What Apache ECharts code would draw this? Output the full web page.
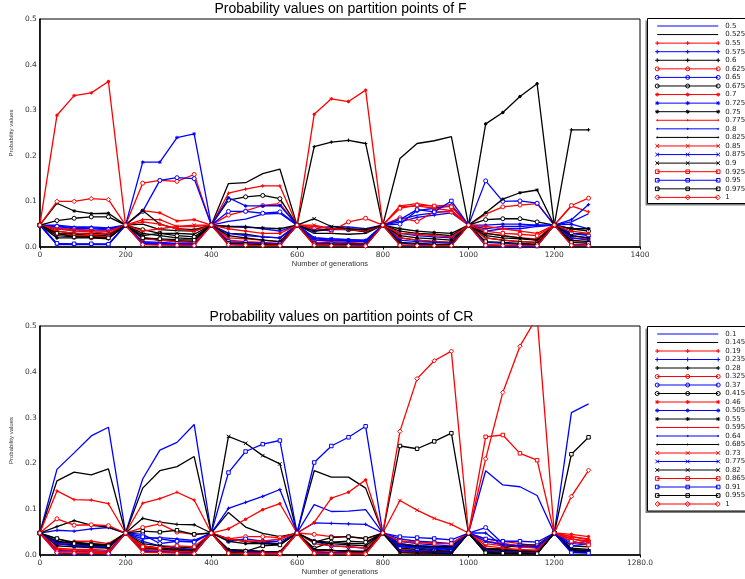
<!DOCTYPE html>
<html><head><meta charset="utf-8">
<script src="https://cdn.jsdelivr.net/npm/echarts@6/dist/echarts.min.js"></script>
<style>html,body{margin:0;padding:0;background:#fff}#c{width:745px;height:579px}</style>
</head><body><div id="c"></div>
<script>
// ---------- data ----------
const generations = [0,40,80,120,160,200,240,280,320,360,400,440,480,520,560,600,640,680,720,760,800,840,880,920,960,1000,1040,1080,1120,1160,1200,1240,1280];
const fNames = ['0.5','0.525','0.55','0.575','0.6','0.625','0.65','0.675','0.7','0.725','0.75','0.775','0.8','0.825','0.85','0.875','0.9','0.925','0.95','0.975','1'];
const crNames = ['0.1','0.145','0.19','0.235','0.28','0.325','0.37','0.415','0.46','0.505','0.55','0.595','0.64','0.685','0.73','0.775','0.82','0.865','0.91','0.955','1'];
const xTickLabelsF = ['0','200','400','600','800','1000','1200','1400'];
const xTickLabelsCR = ['0','200','400','600','800','1000','1200','1280.0'];
const yTickLabels = ['0.0','0.1','0.2','0.3','0.4','0.5'];

const F01 = [0.048, 0.045,0.043,0.042,0.040, 0.048, 0.020,0.015,0.012,0.010, 0.048, 0.056,0.061,0.072,0.074, 0.048, 0.040,0.045,0.044,0.040, 0.048, 0.060,0.070,0.075,0.080, 0.048, 0.035,0.040,0.040,0.045, 0.048, 0.055,0.073];
const F02 = [0.048, 0.035,0.030,0.030,0.028, 0.048, 0.050,0.038,0.036,0.035, 0.048, 0.139,0.141,0.161,0.171, 0.048, 0.030,0.030,0.028,0.030, 0.048, 0.194,0.227,0.233,0.242, 0.048, 0.020,0.015,0.012,0.010, 0.048, 0.030,0.028];
const F03 = [0.048, 0.040,0.035,0.033,0.030, 0.048, 0.060,0.060,0.045,0.045, 0.048, 0.118,0.127,0.134,0.134, 0.048, 0.045,0.040,0.040,0.035, 0.048, 0.090,0.095,0.089,0.093, 0.048, 0.030,0.025,0.020,0.018, 0.048, 0.090,0.077];
const F04 = [0.048, 0.048,0.044,0.044,0.042, 0.048, 0.012,0.010,0.008,0.008, 0.048, 0.045,0.045,0.040,0.035, 0.048, 0.020,0.018,0.016,0.015, 0.048, 0.055,0.065,0.070,0.075, 0.048, 0.040,0.045,0.045,0.048, 0.048, 0.060,0.093];
const F05 = [0.048, 0.025,0.022,0.022,0.020, 0.048, 0.030,0.025,0.020,0.018, 0.048, 0.030,0.028,0.022,0.020, 0.048, 0.220,0.230,0.234,0.227, 0.048, 0.035,0.030,0.028,0.025, 0.048, 0.030,0.025,0.020,0.015, 0.048, 0.257,0.257];
const F06 = [0.048, 0.030,0.025,0.020,0.020, 0.048, 0.140,0.146,0.144,0.159, 0.048, 0.070,0.079,0.091,0.095, 0.048, 0.040,0.035,0.055,0.063, 0.048, 0.064,0.056,0.077,0.077, 0.048, 0.072,0.088,0.092,0.095, 0.048, 0.091,0.107];
const F07 = [0.048, 0.045,0.040,0.040,0.038, 0.048, 0.078,0.146,0.152,0.150, 0.048, 0.078,0.078,0.074,0.077, 0.048, 0.035,0.038,0.038,0.035, 0.048, 0.050,0.080,0.085,0.090, 0.048, 0.145,0.100,0.101,0.096, 0.048, 0.030,0.025];
const F08 = [0.048, 0.058,0.063,0.066,0.066, 0.048, 0.038,0.030,0.025,0.022, 0.048, 0.103,0.110,0.113,0.106, 0.048, 0.010,0.008,0.006,0.006, 0.048, 0.020,0.015,0.012,0.010, 0.048, 0.060,0.062,0.062,0.055, 0.048, 0.040,0.035];
const F09 = [0.048, 0.289,0.332,0.338,0.363, 0.048, 0.080,0.075,0.057,0.060, 0.048, 0.020,0.018,0.015,0.012, 0.048, 0.291,0.325,0.319,0.344, 0.048, 0.020,0.015,0.012,0.010, 0.048, 0.005,0.004,0.004,0.003, 0.048, 0.012,0.010];
const F10 = [0.048, 0.040,0.038,0.036,0.035, 0.048, 0.186,0.186,0.240,0.248, 0.048, 0.030,0.025,0.022,0.020, 0.048, 0.018,0.015,0.014,0.012, 0.048, 0.015,0.012,0.010,0.008, 0.048, 0.048,0.050,0.050,0.048, 0.048, 0.050,0.040];
const F11 = [0.048, 0.096,0.079,0.073,0.074, 0.048, 0.080,0.050,0.040,0.038, 0.048, 0.045,0.043,0.042,0.040, 0.048, 0.035,0.040,0.038,0.033, 0.048, 0.040,0.035,0.032,0.030, 0.048, 0.075,0.105,0.119,0.125, 0.048, 0.040,0.040];
const F12 = [0.048, 0.035,0.030,0.028,0.025, 0.048, 0.055,0.050,0.040,0.035, 0.048, 0.040,0.035,0.030,0.030, 0.048, 0.015,0.012,0.010,0.008, 0.048, 0.088,0.090,0.085,0.080, 0.048, 0.045,0.040,0.035,0.030, 0.048, 0.035,0.030];
const F13 = [0.048, 0.007,0.006,0.006,0.006, 0.048, 0.010,0.008,0.007,0.006, 0.048, 0.108,0.090,0.090,0.091, 0.048, 0.015,0.014,0.013,0.012, 0.048, 0.030,0.025,0.022,0.020, 0.048, 0.010,0.008,0.006,0.005, 0.048, 0.025,0.020];
const F14 = [0.048, 0.020,0.020,0.020,0.018, 0.048, 0.020,0.015,0.014,0.012, 0.048, 0.025,0.020,0.015,0.012, 0.048, 0.010,0.009,0.008,0.006, 0.048, 0.025,0.020,0.018,0.015, 0.048, 0.270,0.295,0.330,0.358, 0.048, 0.015,0.012];
const F15 = [0.048, 0.040,0.038,0.036,0.035, 0.048, 0.035,0.040,0.045,0.048, 0.048, 0.015,0.012,0.010,0.008, 0.048, 0.048,0.040,0.038,0.035, 0.048, 0.030,0.028,0.025,0.022, 0.048, 0.020,0.015,0.012,0.010, 0.048, 0.020,0.018];
const F16 = [0.048, 0.005,0.005,0.005,0.005, 0.048, 0.008,0.007,0.006,0.005, 0.048, 0.005,0.004,0.004,0.003, 0.048, 0.020,0.018,0.016,0.014, 0.048, 0.008,0.006,0.005,0.004, 0.048, 0.004,0.003,0.003,0.003, 0.048, 0.020,0.015];
const F17 = [0.048, 0.030,0.028,0.025,0.025, 0.048, 0.025,0.030,0.030,0.028, 0.048, 0.010,0.008,0.008,0.006, 0.048, 0.062,0.045,0.040,0.038, 0.048, 0.010,0.008,0.006,0.005, 0.048, 0.025,0.020,0.018,0.015, 0.048, 0.025,0.020];
const F18 = [0.048, 0.030,0.025,0.025,0.022, 0.048, 0.018,0.015,0.012,0.010, 0.048, 0.010,0.008,0.006,0.005, 0.048, 0.010,0.008,0.006,0.005, 0.048, 0.085,0.092,0.090,0.088, 0.048, 0.035,0.030,0.028,0.025, 0.048, 0.005,0.004];
const F19 = [0.048, 0.008,0.007,0.007,0.006, 0.048, 0.006,0.005,0.004,0.004, 0.048, 0.012,0.010,0.008,0.007, 0.048, 0.008,0.007,0.006,0.005, 0.048, 0.060,0.082,0.077,0.101, 0.048, 0.003,0.003,0.002,0.002, 0.048, 0.005,0.004];
const F20 = [0.048, 0.030,0.022,0.022,0.020, 0.048, 0.020,0.018,0.016,0.015, 0.048, 0.008,0.006,0.005,0.004, 0.048, 0.005,0.004,0.004,0.003, 0.048, 0.004,0.003,0.003,0.003, 0.048, 0.012,0.010,0.008,0.006, 0.048, 0.010,0.008];
const F21 = [0.048, 0.100,0.100,0.106,0.104, 0.048, 0.005,0.004,0.004,0.003, 0.048, 0.005,0.004,0.003,0.003, 0.048, 0.004,0.003,0.003,0.002, 0.048, 0.004,0.003,0.003,0.003, 0.048, 0.004,0.003,0.003,0.003, 0.048, 0.004,0.003];

const C01 = [0.048, 0.187,0.223,0.260,0.279, 0.048, 0.166,0.229,0.246,0.285, 0.048, 0.035,0.030,0.028,0.025, 0.048, 0.110,0.095,0.096,0.099, 0.048, 0.030,0.025,0.022,0.020, 0.048, 0.184,0.153,0.149,0.130, 0.048, 0.311,0.330];
const C02 = [0.048, 0.162,0.181,0.175,0.188, 0.048, 0.146,0.184,0.193,0.215, 0.048, 0.093,0.061,0.047,0.040, 0.048, 0.184,0.170,0.170,0.146, 0.048, 0.020,0.018,0.015,0.012, 0.048, 0.015,0.012,0.010,0.010, 0.048, 0.020,0.018];
const C03 = [0.048, 0.140,0.121,0.120,0.112, 0.048, 0.113,0.123,0.137,0.120, 0.048, 0.012,0.010,0.008,0.007, 0.048, 0.012,0.010,0.008,0.006, 0.048, 0.012,0.010,0.008,0.006, 0.048, 0.035,0.030,0.025,0.020, 0.048, 0.040,0.035];
const C04 = [0.048, 0.054,0.052,0.057,0.060, 0.048, 0.035,0.038,0.035,0.032, 0.048, 0.102,0.115,0.128,0.143, 0.048, 0.070,0.069,0.068,0.067, 0.048, 0.018,0.015,0.012,0.010, 0.048, 0.048,0.020,0.018,0.016, 0.048, 0.025,0.030];
const C05 = [0.048, 0.062,0.075,0.065,0.061, 0.048, 0.080,0.072,0.067,0.066, 0.048, 0.035,0.030,0.025,0.025, 0.048, 0.030,0.028,0.025,0.025, 0.048, 0.025,0.020,0.018,0.017, 0.048, 0.012,0.010,0.008,0.008, 0.048, 0.015,0.012];
const C06 = [0.048, 0.079,0.065,0.066,0.064, 0.048, 0.060,0.068,0.050,0.045, 0.048, 0.035,0.040,0.040,0.038, 0.048, 0.045,0.040,0.040,0.035, 0.048, 0.030,0.028,0.026,0.025, 0.048, 0.025,0.020,0.018,0.015, 0.048, 0.035,0.030];
const C07 = [0.048, 0.030,0.020,0.018,0.016, 0.048, 0.045,0.025,0.030,0.030, 0.048, 0.030,0.035,0.030,0.030, 0.048, 0.030,0.020,0.018,0.015, 0.048, 0.035,0.030,0.028,0.025, 0.048, 0.060,0.025,0.020,0.018, 0.048, 0.020,0.025];
const C08 = [0.048, 0.025,0.022,0.020,0.018, 0.048, 0.020,0.015,0.012,0.010, 0.048, 0.010,0.008,0.006,0.005, 0.048, 0.015,0.028,0.030,0.028, 0.048, 0.015,0.012,0.010,0.008, 0.048, 0.010,0.015,0.022,0.022, 0.048, 0.010,0.008];
const C09 = [0.048, 0.020,0.030,0.030,0.025, 0.048, 0.020,0.015,0.012,0.010, 0.048, 0.035,0.030,0.030,0.035, 0.048, 0.025,0.020,0.018,0.015, 0.048, 0.005,0.004,0.004,0.003, 0.048, 0.030,0.025,0.020,0.018, 0.048, 0.045,0.040];
const C10 = [0.048, 0.028,0.025,0.022,0.020, 0.048, 0.030,0.020,0.015,0.012, 0.048, 0.010,0.008,0.006,0.005, 0.048, 0.012,0.010,0.008,0.007, 0.048, 0.025,0.020,0.018,0.015, 0.048, 0.030,0.022,0.020,0.018, 0.048, 0.030,0.022];
const C11 = [0.048, 0.020,0.018,0.016,0.015, 0.048, 0.018,0.015,0.012,0.010, 0.048, 0.030,0.025,0.025,0.022, 0.048, 0.030,0.025,0.022,0.020, 0.048, 0.022,0.020,0.018,0.018, 0.048, 0.012,0.010,0.010,0.008, 0.048, 0.012,0.010];
const C12 = [0.048, 0.012,0.010,0.010,0.008, 0.048, 0.015,0.012,0.010,0.008, 0.048, 0.057,0.078,0.099,0.112, 0.048, 0.071,0.124,0.137,0.164, 0.048, 0.008,0.006,0.005,0.004, 0.048, 0.020,0.015,0.012,0.010, 0.048, 0.040,0.033];
const C13 = [0.048, 0.025,0.020,0.020,0.018, 0.048, 0.010,0.008,0.006,0.005, 0.048, 0.008,0.006,0.005,0.004, 0.048, 0.010,0.010,0.008,0.008, 0.048, 0.020,0.016,0.015,0.014, 0.048, 0.010,0.008,0.006,0.005, 0.048, 0.008,0.006];
const C14 = [0.048, 0.035,0.028,0.025,0.022, 0.048, 0.015,0.012,0.010,0.008, 0.048, 0.012,0.010,0.008,0.007, 0.048, 0.012,0.010,0.009,0.008, 0.048, 0.010,0.008,0.007,0.006, 0.048, 0.008,0.006,0.005,0.004, 0.048, 0.006,0.005];
const C15 = [0.048, 0.015,0.012,0.012,0.010, 0.048, 0.012,0.010,0.008,0.006, 0.048, 0.006,0.005,0.004,0.004, 0.048, 0.008,0.006,0.005,0.005, 0.048, 0.119,0.098,0.080,0.067, 0.048, 0.006,0.005,0.004,0.004, 0.048, 0.035,0.028];
const C16 = [0.048, 0.010,0.008,0.007,0.006, 0.048, 0.008,0.006,0.005,0.004, 0.048, 0.005,0.004,0.004,0.003, 0.048, 0.006,0.005,0.004,0.004, 0.048, 0.010,0.008,0.006,0.005, 0.048, 0.005,0.004,0.004,0.003, 0.048, 0.010,0.008];
const C17 = [0.048, 0.030,0.026,0.024,0.022, 0.048, 0.025,0.020,0.018,0.015, 0.048, 0.259,0.244,0.217,0.199, 0.048, 0.012,0.010,0.008,0.007, 0.048, 0.005,0.004,0.004,0.003, 0.048, 0.004,0.003,0.003,0.003, 0.048, 0.010,0.008];
const C18 = [0.048, 0.008,0.007,0.006,0.005, 0.048, 0.018,0.015,0.020,0.018, 0.048, 0.004,0.003,0.003,0.002, 0.048, 0.004,0.003,0.003,0.003, 0.048, 0.030,0.028,0.025,0.025, 0.048, 0.258,0.262,0.222,0.207, 0.048, 0.030,0.022];
const C19 = [0.048, 0.004,0.003,0.003,0.003, 0.048, 0.040,0.035,0.030,0.028, 0.048, 0.180,0.226,0.242,0.250, 0.048, 0.202,0.238,0.257,0.281, 0.048, 0.040,0.038,0.036,0.033, 0.048, 0.035,0.030,0.030,0.028, 0.048, 0.005,0.004];
const C20 = [0.048, 0.036,0.025,0.022,0.020, 0.048, 0.052,0.050,0.054,0.045, 0.048, 0.005,0.008,0.020,0.022, 0.048, 0.028,0.038,0.040,0.036, 0.048, 0.238,0.232,0.248,0.266, 0.048, 0.005,0.004,0.004,0.003, 0.048, 0.220,0.257];
const C21 = [0.048, 0.005,0.004,0.004,0.003, 0.048, 0.006,0.005,0.004,0.003, 0.048, 0.004,0.003,0.003,0.003, 0.048, 0.004,0.003,0.003,0.002, 0.048, 0.270,0.385,0.424,0.445, 0.048, 0.210,0.355,0.456,0.520, 0.048, 0.128,0.185];

const fValues = [F01,F02,F03,F04,F05,F06,F07,F08,F09,F10,F11,F12,F13,F14,F15,F16,F17,F18,F19,F20,F21];
const crValues = [C01,C02,C03,C04,C05,C06,C07,C08,C09,C10,C11,C12,C13,C14,C15,C16,C17,C18,C19,C20,C21];

// ---------- styling ----------
const colorCycle = ['#0000ff', '#000000', '#ff0000'];
const markerKinds = ['none','none','plus','plus','plus','circle','circle','circle','star','star','star','dot','dot','dot','cross','cross','cross','square','square','square','diamond'];
const symbolDefs = {
  none: ['none', 0],
  plus: ['path://M0,2H4M2,0V4', 3.5],
  star: ['path://M0,2H4M2,0V4M0.6,0.6L3.4,3.4M0.6,3.4L3.4,0.6', 3.5],
  cross: ['path://M0,0L4,4M0,4L4,0', 3.5],
  circle: ['circle', 4],
  dot: ['circle', 2.5],
  square: ['rect', 3.5],
  diamond: ['diamond', 4.5]
};
function mark(kind, x) {
  switch (kind) {
    case 'plus': return `M${x-2},2.5H${x+2}M${x},0.5V4.5`;
    case 'cross': return `M${x-1.8},0.7L${x+1.8},4.3M${x-1.8},4.3L${x+1.8},0.7`;
    case 'star': return `M${x-2},2.5H${x+2}M${x},0.5V4.5M${x-1.4},1.1L${x+1.4},3.9M${x-1.4},3.9L${x+1.4},1.1`;
    case 'circle': return `M${x-2},2.5A2,2,0,1,0,${x+2},2.5A2,2,0,1,0,${x-2},2.5`;
    case 'dot': return `M${x-0.6},2.5A0.6,0.6,0,1,0,${x+0.6},2.5A0.6,0.6,0,1,0,${x-0.6},2.5`;
    case 'square': return `M${x-1.8},0.7H${x+1.8}V4.3H${x-1.8}Z`;
    case 'diamond': return `M${x},0L${x+2.5},2.5L${x},5L${x-2.5},2.5Z`;
  }
  return '';
}
function legendIcon(kind) {
  let p = 'path://M0,0M65,5M2,2.5H63';
  if (kind !== 'none') [2, 32.5, 63].forEach(x => { p += mark(kind, x); });
  return p;
}
function buildSeries(names, values, axisIdx) {
  return names.map((name, i) => {
    const c = colorCycle[i % 3];
    const kind = markerKinds[i];
    const sd = symbolDefs[kind];
    return {
      type: 'line', name: name, xAxisIndex: axisIdx, yAxisIndex: axisIdx,
      data: generations.map((g, k) => [g, values[i][k]]),
      symbol: sd[0], symbolSize: sd[1], showSymbol: kind !== 'none',
      lineStyle: { color: c, width: 1.3 },
      itemStyle: { color: kind === 'dot' ? c : '#fff', borderColor: c, borderWidth: 1 },
      emphasis: { disabled: true }, silent: true, animation: false, z: 2 + i * 0.01
    };
  });
}
function buildLegend(names, top, gap) {
  return {
    orient: 'vertical', left: 652.7, top: top, padding: 0,
    itemWidth: 65, itemHeight: 5, itemGap: gap, symbolKeepAspect: false, selectedMode: false, z: 10,
    textStyle: { fontSize: 7, lineHeight: 8, color: '#222', fontFamily: 'DejaVu Sans' },
    data: names.map((n, i) => ({
      name: n, icon: legendIcon(markerKinds[i]),
      itemStyle: { color: 'none', borderColor: colorCycle[i % 3], borderWidth: 1 }
    }))
  };
}
const labelStyle = { fontSize: 7.5, fontFamily: 'DejaVu Sans', color: '#333' };
function xAxisOpt(gridIndex, labels, namePad) {
  return {
    gridIndex: gridIndex, type: 'value', min: 0, max: 1400, interval: 200,
    axisLine: { show: true, onZero: false, lineStyle: { color: '#000', width: 1.5 } },
    axisTick: { show: true, length: 2.5, lineStyle: { color: '#000' } },
    axisLabel: Object.assign({ margin: 4, formatter: v => labels[Math.round(v / 200)] }, labelStyle),
    splitLine: { show: false },
    name: 'Number of generations', nameLocation: 'middle', nameGap: 12,
    nameTextStyle: { fontSize: 7.5, fontFamily: 'Liberation Sans', color: '#333', padding: namePad }
  };
}
function yAxisOpt(gridIndex) {
  return {
    gridIndex: gridIndex, type: 'value', min: 0, max: 0.5, interval: 0.1,
    axisLine: { show: true, onZero: false, lineStyle: { color: '#000', width: 1.5 } },
    axisTick: { show: false },
    axisLabel: Object.assign({ margin: 3, formatter: v => yTickLabels[Math.round(v * 10)] }, labelStyle),
    splitLine: { show: false },
    name: 'Probability values', nameLocation: 'middle', nameGap: 20,
    nameTextStyle: { fontSize: 6, fontFamily: 'Liberation Sans', color: '#333' }
  };
}

const chart = echarts.init(document.getElementById('c'), null, { renderer: 'canvas' });
chart.setOption({
  animation: false,
  backgroundColor: '#fff',
  textStyle: { fontFamily: 'Liberation Sans' },
  title: [
    { text: 'Probability values on partition points of F', left: 340.5, top: 2.5, textAlign: 'center', textVerticalAlign: 'top', padding: 0,
      textStyle: { fontSize: 14, fontWeight: 'normal', color: '#000', fontFamily: 'Liberation Sans' } },
    { text: 'Probability values on partition points of CR', left: 341.5, top: 310.5, textAlign: 'center', textVerticalAlign: 'top', padding: 0,
      textStyle: { fontSize: 14, fontWeight: 'normal', color: '#000', fontFamily: 'Liberation Sans' } }
  ],
  grid: [
    { left: 38, top: 19, width: 602, height: 228, show: true, borderColor: '#000', borderWidth: 1, backgroundColor: 'transparent', containLabel: false },
    { left: 38, top: 326, width: 602, height: 229, show: true, borderColor: '#000', borderWidth: 1, backgroundColor: 'transparent', containLabel: false }
  ],
  xAxis: [ xAxisOpt(0, xTickLabelsF, [0, 20, 0, 0]), xAxisOpt(1, xTickLabelsCR, 0) ],
  yAxis: [ yAxisOpt(0), yAxisOpt(1) ],
  legend: [ buildLegend(fNames, 21, -1.43), buildLegend(crNames, 329, -1.5) ],
  graphic: [
    { type: 'rect', silent: true, z: 0, shape: { x: 645.5, y: 20.5, width: 120, height: 185 }, style: { fill: '#808080' } },
    { type: 'rect', silent: true, z: 1, shape: { x: 647.5, y: 18.5, width: 120, height: 185 }, style: { fill: '#fff', stroke: '#000', lineWidth: 1 } },
    { type: 'rect', silent: true, z: 0, shape: { x: 645.5, y: 328.5, width: 120, height: 184.5 }, style: { fill: '#808080' } },
    { type: 'rect', silent: true, z: 1, shape: { x: 647.5, y: 326.5, width: 120, height: 184.5 }, style: { fill: '#fff', stroke: '#000', lineWidth: 1 } }
  ],
  series: buildSeries(fNames, fValues, 0).concat(buildSeries(crNames, crValues, 1))
});
</script>
</body></html>
